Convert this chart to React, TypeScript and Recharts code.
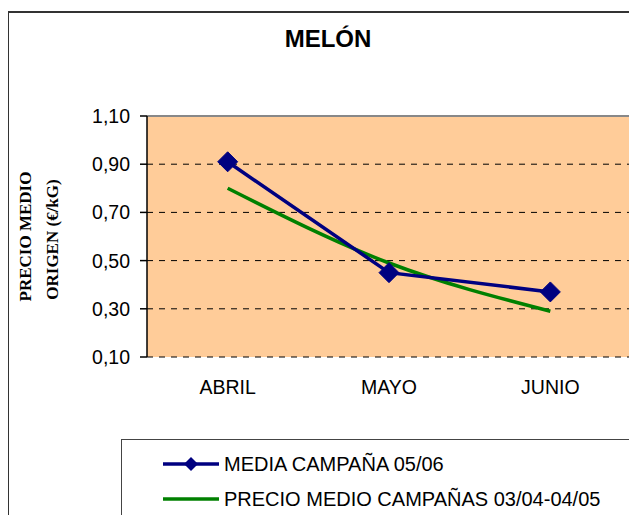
import React from "react";
import {
  LineChart,
  Line,
  XAxis,
  YAxis,
  CartesianGrid,
  ReferenceLine,
} from "recharts";

const months = ["ABRIL", "MAYO", "JUNIO"];
const media0506 = [0.91, 0.45, 0.37];
const precioMedio = [0.8, 0.49, 0.29];
const yTicks = [0.1, 0.3, 0.5, 0.7, 0.9, 1.1];

const seriesNames = ["MEDIA CAMPAÑA 05/06", "PRECIO MEDIO CAMPAÑAS 03/04-04/05"];

const NAVY = "#000080";
const GREEN = "#008000";

// x sits in the middle of each category band, bands are [i, i+1]
const data = months.map((m, i) => ({
  x: i + 0.5,
  month: m,
  media: media0506[i],
  precio: precioMedio[i],
}));

const Diamond = (props: any) => {
  const { cx, cy } = props;
  if (cx == null || cy == null) return null;
  const r = 10;
  return (
    <path
      d={`M${cx},${cy - r} L${cx + r},${cy} L${cx},${cy + r} L${cx - r},${cy} Z`}
      fill={NAVY}
      stroke={NAVY}
    />
  );
};

const fmt = (v: number) => v.toFixed(2).replace(".", ",");

const tickFont = { fontFamily: "'Liberation Sans', Arial, sans-serif", fontSize: 19.5, fill: "#000" };

export default function App() {
  return (
    <div
      style={{
        position: "relative",
        width: 637,
        height: 523,
        margin: -8,
        overflow: "hidden",
        background: "#fff",
        fontFamily: "'Liberation Sans', Arial, sans-serif",
      }}
    >
      <div
        style={{
          position: "absolute",
          left: 7,
          top: 11,
          width: 650,
          height: 530,
          border: "2px solid #333",
        }}
      />
      <div
        style={{
          position: "absolute",
          left: 0,
          width: 656,
          top: 25,
          textAlign: "center",
          fontWeight: "bold",
          fontSize: 24,
          color: "#000",
        }}
      >
        MELÓN
      </div>

      <div style={{ position: "absolute", left: 0, top: 0 }}>
        <LineChart
          width={637}
          height={523}
          data={data}
          margin={{ top: 116, right: 6, left: 87, bottom: 136 }}
        >
          <CartesianGrid
            fill="#FFCC99"
            vertical={false}
            stroke="#000"
            strokeDasharray="6 6"
            yAxisId="l"
            xAxisId="t"
          />
          <XAxis
            xAxisId="t"
            type="number"
            dataKey="x"
            domain={[0, months.length]}
            ticks={[0, 1, 2, 3]}
            tickFormatter={() => ""}
            height={0}
            tickSize={6}
            axisLine={{ stroke: "#000", strokeWidth: 1.5 }}
            tickLine={{ stroke: "#000", strokeWidth: 1.5 }}
          />
          <XAxis
            xAxisId="m"
            type="number"
            dataKey="x"
            domain={[0, months.length]}
            ticks={data.map((d) => d.x)}
            tickFormatter={(v: number) => months[Math.floor(v)]}
            height={30}
            tickSize={0}
            tickMargin={23}
            axisLine={false}
            tickLine={false}
            tick={tickFont}
          />
          <YAxis
            yAxisId="l"
            domain={[0.1, 1.1]}
            ticks={yTicks}
            tickFormatter={fmt}
            width={60}
            tickSize={7}
            tickMargin={10}
            axisLine={{ stroke: "#000", strokeWidth: 1.5 }}
            tickLine={{ stroke: "#000", strokeWidth: 1.5 }}
            tick={tickFont}
            interval={0}
            label={({ viewBox }: any) => {
              const cy = viewBox.y + viewBox.height / 2;
              return (
                <g
                  fontFamily="'Liberation Serif', 'Times New Roman', serif"
                  fontWeight="bold"
                  fontSize={17}
                  fill="#000"
                  textAnchor="middle"
                >
                  <text transform={`translate(31,${cy}) rotate(-90)`}>PRECIO MEDIO</text>
                  <text transform={`translate(58,${cy + 3}) rotate(-90)`}>ORIGEN (€/kG)</text>
                </g>
              );
            }}
          />
          <YAxis
            yAxisId="r"
            orientation="right"
            domain={[0.1, 1.1]}
            width={0}
            tick={false}
            tickLine={false}
            axisLine={{ stroke: "#888", strokeWidth: 2 }}
          />
          <ReferenceLine yAxisId="l" xAxisId="t" y={1.1} stroke="#888" strokeWidth={2} />
          <Line
            xAxisId="t"
            yAxisId="l"
            dataKey="precio"
            type="monotone"
            stroke={GREEN}
            strokeWidth={3.5}
            dot={false}
            isAnimationActive={false}
          />
          <Line
            xAxisId="t"
            yAxisId="l"
            dataKey="media"
            type="linear"
            stroke={NAVY}
            strokeWidth={3.5}
            dot={<Diamond />}
            activeDot={false}
            isAnimationActive={false}
          />
        </LineChart>
      </div>

      <div
        style={{
          position: "absolute",
          left: 121,
          top: 439,
          width: 540,
          height: 79,
          border: "1px solid #444",
          background: "#fff",
        }}
      >
        {seriesNames.map((name, i) => (
          <div
            key={name}
            style={{
              position: "absolute",
              left: 40,
              top: 12 + i * 35,
              height: 24,
              display: "flex",
              alignItems: "center",
              whiteSpace: "nowrap",
              fontSize: 20,
              color: "#000",
            }}
          >
            <svg width={58} height={24} style={{ marginRight: 4 }}>
              <line
                x1={1}
                y1={12}
                x2={57}
                y2={12}
                stroke={i === 0 ? NAVY : GREEN}
                strokeWidth={3.5}
              />
              {i === 0 && <path d="M29,5 L36,12 L29,19 L22,12 Z" fill={NAVY} />}
            </svg>
            <span>{name}</span>
          </div>
        ))}
      </div>
    </div>
  );
}
